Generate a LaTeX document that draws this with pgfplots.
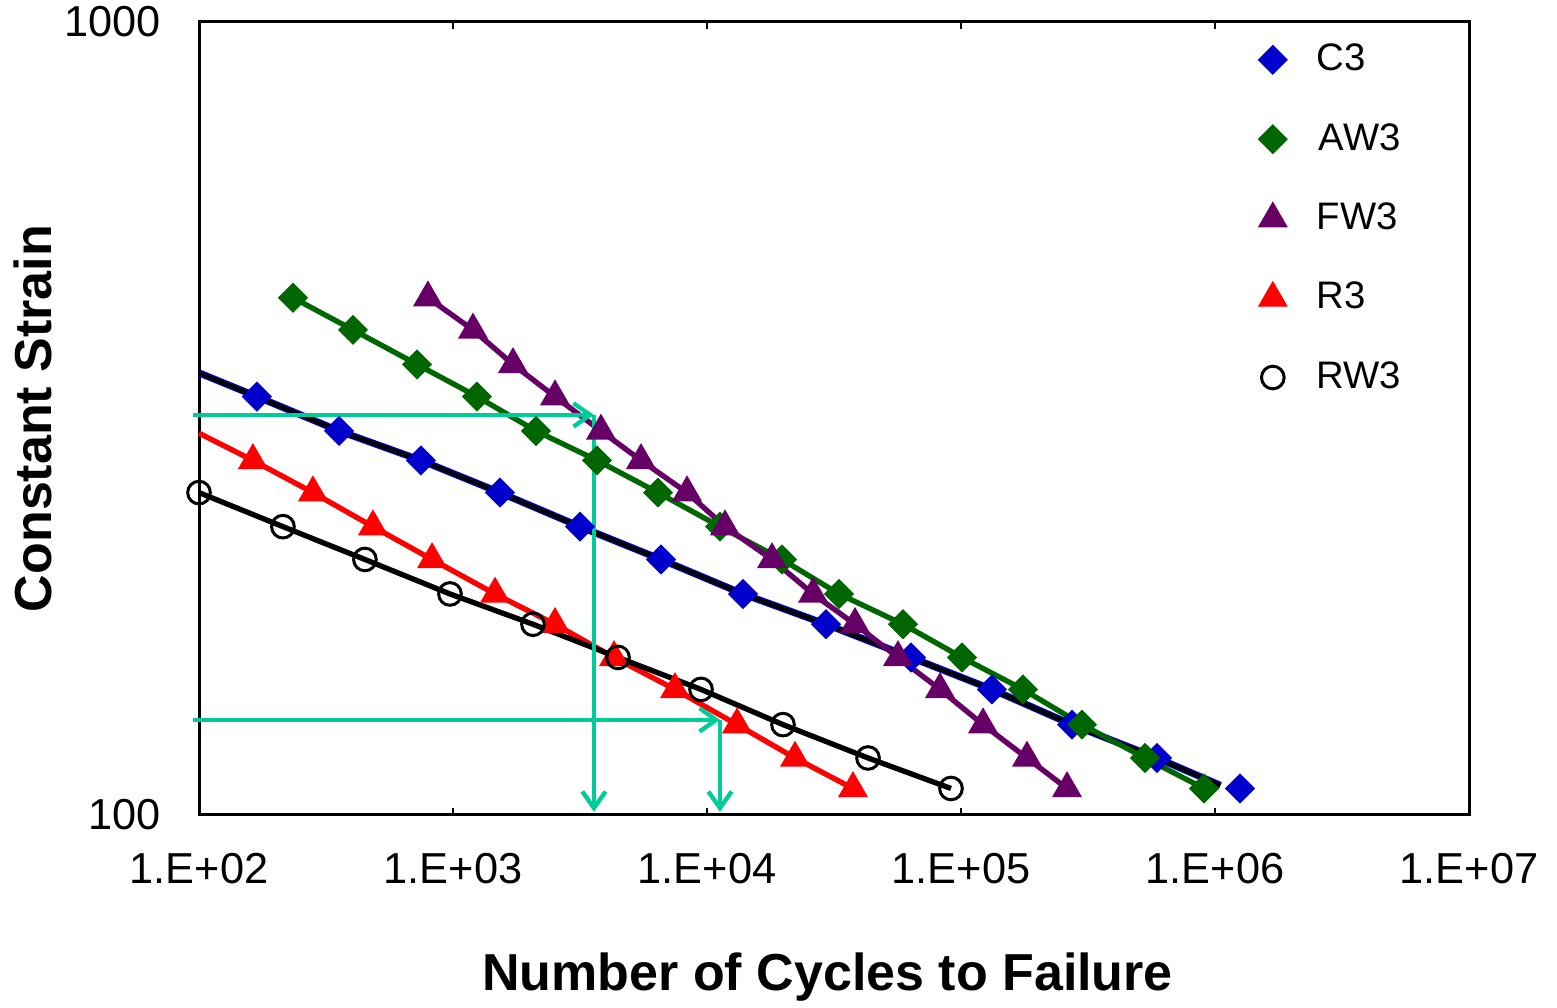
\documentclass[border=0pt]{standalone}
\usepackage{fontspec}
\setmainfont{Liberation Sans}
\usepackage{pgfplots}
\pgfplotsset{compat=1.18}
\usetikzlibrary{arrows.meta}
\definecolor{cthree}{RGB}{0,0,204}
\definecolor{awthree}{RGB}{0,102,0}
\definecolor{fwthree}{RGB}{102,0,102}
\definecolor{rthree}{RGB}{255,0,0}
\definecolor{arrowc}{RGB}{0,204,153}
\begin{document}
\begin{tikzpicture}
\begin{axis}[
  name=main,
  xmode=log, ymode=log,
  scale only axis, width=381pt, height=237.9pt,
  xmin=100, xmax=1e7, ymin=100, ymax=1000,
  xtick={1e2,1e3,1e4,1e5,1e6,1e7},
  xticklabels={1.E+02,1.E+03,1.E+04,1.E+05,1.E+06,1.E+07},
  ytick={100,1000}, yticklabels={100,1000},
  minor tick length=0pt, major tick length=2.2pt,
  tick style={black, line width=0.8pt},
  axis line style={line width=0.9pt},
  ticklabel style={font=\fontsize{13}{15}\selectfont},
  xticklabel style={yshift=-8pt},
  yticklabel style={xshift=-8pt},
  xlabel={Number of Cycles to Failure},
  ylabel={Constant Strain},
  label style={font=\bfseries\fontsize{15.6}{18}\selectfont},
  xlabel style={at={(axis description cs:0.495,-0.205)}, anchor=center},
  ylabel style={at={(axis description cs:-0.1307,0.5)}, anchor=center},
  clip=false,
  legend style={draw=none, fill=none, at={(axis description cs:0.826,0.99)},
    anchor=north west, font=\fontsize{11.5}{13}\selectfont, row sep=10.3pt},
  legend cell align=left,
]
% measured points
\addplot[only marks, mark=square*, mark size=3pt,
  mark options={rotate=45, draw=cthree, fill=cthree}] coordinates {
  (169,337)(356,305)(748,280)(1531,255)(3162,231)(6591,210)(13860,190)
  (29410,174)(63550,158)(132400,144)(273500,130)(591000,118)(1254000,108)};
\addlegendentry{\hspace{6.9pt}C3}
\addplot[only marks, mark=square*, mark size=3pt,
  mark options={rotate=45, draw=awthree, fill=awthree}] coordinates {
  (234.5,449)(404,409)(722,370)(1243,337)(2122,305)(3690,280)(6414,255)
  (11250,231)(19740,210)(33100,190)(59120,174)(100900,158)(175400,144)
  (299500,130)(530100,118)(905100,108)};
\addlegendentry{\hspace{7.6pt}AW3}
\addplot[only marks, mark=triangle*, mark size=4.8pt,
  mark options={draw=fwthree, fill=fwthree}] coordinates {
  (797,449)(1199,409)(1723,370)(2521,337)(3825,305)(5498,280)(8343,255)
  (11770,231)(18030,210)(26150,190)(38250,174)(56490,158)(82660,144)
  (122100,130)(181900,118)(261500,108)};
\addlegendentry{\hspace{6.9pt}FW3}
\addplot[only marks, mark=triangle*, mark size=4.8pt,
  mark options={draw=rthree, fill=rthree}] coordinates {
  (163,280)(281,255)(484,231)(827,210)(1464,190)(2521,174)(4304,158)
  (7482,144)(13130,130)(22210,118)(37560,108)};
\addlegendentry{\hspace{6.9pt}R3}
\addplot[only marks, mark=o, mark size=3.4pt,
  mark options={draw=black, line width=0.9pt}] coordinates {
  (100,255)(214,231)(450,210)(973,190)(2065,174)(4463,158)(9471,144)
  (19920,130)(43050,118)(91330,108)};
\addlegendentry{\hspace{6.9pt}RW3}
% trend lines
\addplot[forget plot, cthree, line width=2.1pt] coordinates {
  (100,361)(169,337)(356,305)(748,280)(1531,255)(3162,231)(6591,210)(13860,190)
  (29410,174)(63550,158)(132400,144)(273500,130)(591000,118)(1050000,109)};
\addplot[forget plot, black, line width=1.4pt] coordinates {
  (100,361)(169,337)(356,305)(748,280)(1531,255)(3162,231)(6591,210)(13860,190)
  (29410,174)(63550,158)(132400,144)(273500,130)(591000,118)(1050000,109)};
\addplot[forget plot, awthree, line width=1.6pt] coordinates {
  (234.5,449)(404,409)(722,370)(1243,337)(2122,305)(3690,280)(6414,255)
  (11250,231)(19740,210)(33100,190)(59120,174)(100900,158)(175400,144)
  (299500,130)(530100,118)(905100,108)};
\addplot[forget plot, fwthree, line width=1.6pt] coordinates {
  (797,449)(1199,409)(1723,370)(2521,337)(3825,305)(5498,280)(8343,255)
  (11770,231)(18030,210)(26150,190)(38250,174)(56490,158)(82660,144)
  (122100,130)(181900,118)(261500,108)};
\addplot[forget plot, rthree, line width=1.6pt] coordinates {
  (100,303)(163,280)(281,255)(484,231)(827,210)(1464,190)(2521,174)(4304,158)
  (7482,144)(13130,130)(22210,118)(37560,108)};
\addplot[forget plot, black, line width=1.6pt] coordinates {
  (100,255)(214,231)(450,210)(973,190)(2065,174)(4463,158)(9471,144)
  (19920,130)(43050,118)(91330,108)};
% guide arrows
\draw[arrowc, line width=1.3pt, -{Straight Barb[length=5pt,width=7pt]}]
  (axis cs:94.7,319.5) -- (axis cs:3589,319.5);
\draw[arrowc, line width=1.3pt, -{Straight Barb[length=5pt,width=7pt]}]
  (axis cs:3589,319.5) -- (axis cs:3589,100.9);
\draw[arrowc, line width=1.3pt, -{Straight Barb[length=5pt,width=7pt]}]
  (axis cs:94.7,131.8) -- (axis cs:11250,131.8);
\draw[arrowc, line width=1.3pt, -{Straight Barb[length=5pt,width=7pt]}]
  (axis cs:11250,131.8) -- (axis cs:11250,100.9);
\end{axis}
\pgfresetboundingbox
\path[use as bounding box] ([xshift=-59.7pt,yshift=-57.9pt]main.south west)
  rectangle ([xshift=26.4pt,yshift=6.6pt]main.north east);
\end{tikzpicture}
\end{document}
